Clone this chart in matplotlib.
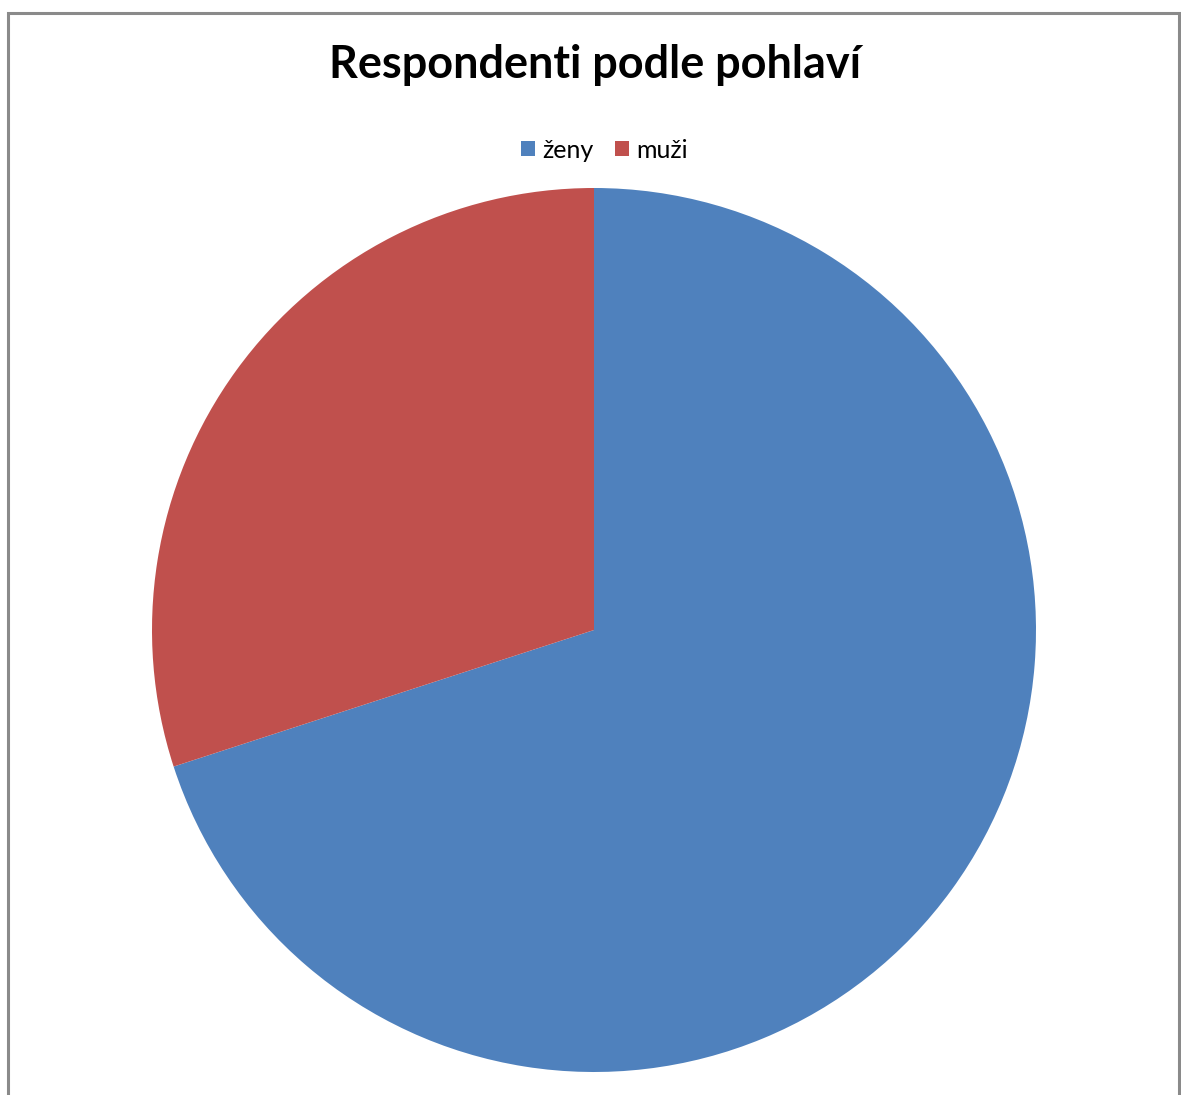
import matplotlib
matplotlib.use("Agg")
import matplotlib.pyplot as plt
from matplotlib.patches import Rectangle, Patch

categories = ["ženy", "muži"]
values = [70, 30]
colors = ["#4F81BD", "#C0504D"]
title = "Respondenti podle pohlaví"

W, H = 1181, 1095
fig = plt.figure(figsize=(W / 100, H / 100), dpi=100)
fig.patch.set_facecolor("white")

# chart border (bottom runs off the image)
fig.add_artist(Rectangle((7.5 / W, -0.05), (1178.5 - 7.5) / W, 1.05 - 12.5 / H,
                         transform=fig.transFigure, fill=False,
                         edgecolor="#8a8a8a", linewidth=2.2))

cx, cy, r = 594, 630, 442
ax = fig.add_axes([(cx - r) / W, (H - cy - r) / H, 2 * r / W, 2 * r / H])
ax.pie(values, colors=colors, startangle=90, counterclock=False, radius=1,
       wedgeprops=dict(edgecolor="none"))
ax.set_xlim(-1, 1)
ax.set_ylim(-1, 1)
ax.set_aspect("equal")
ax.axis("off")

fig.text(595 / W, 1 - 65 / H, title, ha="center", va="center",
         fontsize=32.4, fontweight="bold", family=["Lato", "DejaVu Sans"])

handles = [Patch(facecolor=c, edgecolor="none") for c in colors]
fig.legend(handles, categories, loc="center", bbox_to_anchor=(604.5 / W, 1 - 150 / H),
           ncol=2, frameon=False, prop={"family": ["Lato", "DejaVu Sans"], "size": 18},
           handlelength=0.56, handleheight=0.56, handletextpad=0.3, columnspacing=0.85,
           borderpad=0.1)

fig.savefig("out.png", dpi=100)
